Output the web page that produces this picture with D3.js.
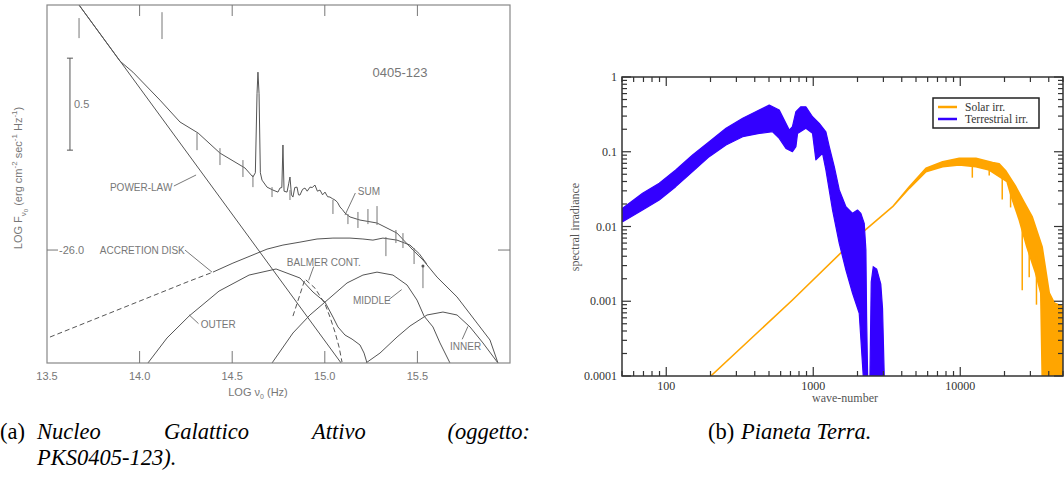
<!DOCTYPE html>
<html>
<head>
<meta charset="utf-8">
<script src="https://cdn.jsdelivr.net/npm/d3@7"></script>
<style>
  body { margin: 0; background: #fff; }
  svg { display: block; }
</style>
</head>
<body>
<div id="chart"></div>
<script>
// ---------- panel (a): PKS 0405-123 ----------
var powerLaw = [[13.673, -24.668], [15.088, -26.614]];
var sumCurve = [[13.673,-24.668],[13.894,-24.973],[13.964,-25.033],[14.110,-25.185],[14.218,-25.304],[14.316,-25.364],
  [14.434,-25.473],[14.569,-25.554],[14.612,-25.603],[14.625,-25.58],[14.634,-25.15],[14.639,-25.033],[14.645,-25.15],
  [14.652,-25.58],[14.661,-25.620],[14.688,-25.658],[14.720,-25.674],[14.747,-25.685],[14.758,-25.663],[14.768,-25.66],
  [14.774,-25.429],[14.780,-25.68],[14.796,-25.685],[14.805,-25.64],[14.812,-25.603],[14.820,-25.70],[14.828,-25.712],
  [14.838,-25.66],[14.850,-25.658],[14.858,-25.70],[14.866,-25.701],[14.880,-25.67],[14.893,-25.663],[14.905,-25.68],
  [14.920,-25.658],[14.932,-25.66],[14.947,-25.647],[14.960,-25.68],[14.974,-25.674],[14.988,-25.70],[15.001,-25.685],
  [15.015,-25.71],[15.028,-25.712],[15.040,-25.72],[15.055,-25.728],[15.068,-25.74],[15.082,-25.766],[15.095,-25.78],
  [15.109,-25.799],[15.136,-25.82],[15.190,-25.837],[15.282,-25.853],[15.390,-25.908],[15.476,-26.0],[15.530,-26.054],
  [15.606,-26.147],[15.714,-26.255],[15.822,-26.397],[15.892,-26.489],[15.935,-26.614]];
var diskDashed = [[13.516,-26.473],[13.786,-26.364],[14.056,-26.255],[14.256,-26.174],[14.396,-26.120]];
var diskSolid = [[14.396,-26.120],[14.504,-26.071],[14.688,-25.995],[14.774,-25.973],[14.866,-25.957],[14.958,-25.940],
  [15.044,-25.935],[15.136,-25.935],[15.206,-25.940],[15.260,-25.946],[15.314,-25.935],[15.390,-25.946],[15.460,-25.973],
  [15.510,-26.02],[15.550,-26.075]];
var outer = [[14.045,-26.614],[14.148,-26.478],[14.267,-26.359],[14.429,-26.223],[14.591,-26.136],[14.737,-26.103],
  [14.866,-26.152],[14.936,-26.228],[15.001,-26.283],[15.044,-26.364],[15.071,-26.418],[15.109,-26.462],[15.147,-26.484],
  [15.190,-26.516],[15.212,-26.560],[15.228,-26.614]];
var middle = [[14.715,-26.614],[14.828,-26.451],[14.920,-26.353],[15.001,-26.283],[15.120,-26.179],[15.206,-26.136],
  [15.282,-26.120],[15.368,-26.136],[15.444,-26.190],[15.498,-26.272],[15.536,-26.359],[15.584,-26.418],[15.622,-26.505],
  [15.676,-26.614]];
var inner = [[15.222,-26.614],[15.298,-26.560],[15.390,-26.473],[15.460,-26.413],[15.552,-26.353],[15.638,-26.337],
  [15.714,-26.353],[15.784,-26.418],[15.854,-26.505],[15.935,-26.614]];
var balmer = [[14.828,-26.359],[14.893,-26.158],[14.947,-26.207],[15.001,-26.293],[15.028,-26.364],[15.055,-26.446],
  [15.077,-26.527],[15.093,-26.609]];
// error bars: [logNu, top, bottom]
var errorBars = [[13.673,-24.739,-24.848],[14.121,-24.707,-24.853],[14.310,-25.364,-25.457],[14.434,-25.446,-25.538],
  [14.558,-25.511,-25.603],[14.612,-25.592,-25.658],[14.715,-25.658,-25.712],[14.812,-25.674,-25.728],
  [15.044,-25.728,-25.804],[15.125,-25.804,-25.859],[15.179,-25.793,-25.880],[15.233,-25.777,-25.859],
  [15.282,-25.761,-25.864],[15.330,-25.929,-26.033],[15.384,-25.891,-25.962],[15.422,-25.908,-25.989],
  [15.482,-25.989,-26.076],[15.530,-26.087,-26.207]];
var xTicksA = [13.5, 14.0, 14.5, 15.0, 15.5];
var scaleBar = [13.624, -24.957, -25.457];
// labels: [text, logNu, logF, pointer from, pointer to]
var labelsA = [
  ["POWER-LAW", 13.84, -25.660, [14.185, -25.652], [14.305, -25.592]],
  ["SUM", 15.178, -25.677, [15.165, -25.690], [15.109, -25.810]],
  ["ACCRETION DISK", 13.785, -26.0, [14.245, -26.0], [14.391, -26.12]],
  ["OUTER", 14.33, -26.40, [14.318, -26.40], [14.267, -26.352]],
  ["BALMER CONT.", 14.795, -26.063, [14.94, -26.09], [14.913, -26.165]],
  ["MIDDLE", 15.152, -26.27, [15.345, -26.27], [15.415, -26.215]],
  ["INNER", 15.676, -26.52, [15.742, -26.485], [15.773, -26.415]]
];

// ---------- panel (b): Pianeta Terra ----------
var terrUpper = [[50.5,0.0175],[69,0.0278],[89.6,0.0378],[116,0.057],[151,0.0905],[196,0.136],[255,0.206],[331,0.28],
  [429,0.362],[502,0.42],[587,0.362],[635,0.266],[687,0.195],[722,0.217],[762,0.343],[824,0.40],[891,0.40],[989,0.294],
  [1099,0.24],[1219,0.185],[1285,0.117],[1390,0.063],[1503,0.0308],[1668,0.0184],[1851,0.015],[2000,0.0166],
  [2108,0.015],[2222,0.011],[2281,0.00485],[2306,0.00062],[2344,0.0001]];
var terrLower = [[50.5,0.0116],[69,0.0166],[89.6,0.0226],[116,0.0341],[151,0.0542],[196,0.086],[255,0.123],[331,0.159],
  [429,0.176],[529,0.185],[587,0.151],[652,0.111],[722,0.100],[762,0.117],[782,0.176],[891,0.206],[989,0.176],
  [1042,0.078],[1157,0.0953],[1219,0.057],[1353,0.0166],[1503,0.00596],[1668,0.00262],[1851,0.00128],[2055,0.00069],
  [2188,0.0001]];
var terrBand2 = [[2431,0.0001],[2480,0.0018],[2560,0.0029],[2700,0.0027],[2880,0.0017],[2960,0.0008],[3040,0.0001]];
var solarUpper = [[201,0.0001],[722,0.00104],[2055,0.00769],[3467,0.0184],[4500,0.0341],[5843,0.0601],[7586,0.0736],
  [9845,0.0817],[12790,0.0817],[16600,0.072],[18400,0.069],[20460,0.055],[23900,0.034],[27240,0.021],[30900,0.0134],
  [36100,0.0053],[40300,0.00129],[43600,0.00095],[50000,0.00085]];
var solarLower = [[201,0.0001],[722,0.00104],[2055,0.00769],[3467,0.0184],[4500,0.0324],[5843,0.0542],[7586,0.0631],
  [9845,0.0665],[12790,0.0631],[15740,0.057],[18420,0.0464],[20800,0.040],[22300,0.0248],[25200,0.0122],[28400,0.0053],
  [32500,0.0024],[35300,0.00129],[36100,0.0001],[50000,0.0001]];
// absorption spikes: [wave-number, top, bottom]
var solarSpikes = [[12080,0.077,0.045],[15740,0.072,0.048],[19300,0.057,0.023],[22000,0.04,0.018],[26400,0.0152,0.0014],
  [29450,0.006,0.0021],[33000,0.004,0.0009]];
var xMajorB = [100, 1000, 10000];
var yMajorB = [0.0001, 0.001, 0.01, 0.1, 1];
var yLabelsB = ["0.0001", "0.001", "0.01", "0.1", "1"];
var legendB = [["Solar irr.", "#ffa500"], ["Terrestrial irr.", "#3300ff"]];

var W = 1064, H = 477;
var svg = d3.select("#chart").append("svg").attr("width", W).attr("height", H);
svg.append("rect").attr("width", W).attr("height", H).attr("fill", "#fff");

// ======== panel (a) ========
var xA = d3.scaleLinear().domain([13.5, 16.0]).range([47, 510]);
var yA = d3.scaleLinear().domain([-26.614, -24.668]).range([363, 5]);
var lineA = d3.line().x(function(d){ return xA(d[0]); }).y(function(d){ return yA(d[1]); });
var gray = "#555";

svg.append("clipPath").attr("id", "clipA").append("rect")
  .attr("x", 47).attr("y", 5).attr("width", 463).attr("height", 358);
var ga = svg.append("g");
var gc = ga.append("g").attr("clip-path", "url(#clipA)");

gc.selectAll("path.curve")
  .data([powerLaw, sumCurve, diskSolid, outer, middle, inner])
  .enter().append("path").attr("class", "curve")
  .attr("d", lineA).attr("fill", "none").attr("stroke", gray).attr("stroke-width", 1);
gc.selectAll("path.dash")
  .data([diskDashed, balmer])
  .enter().append("path").attr("class", "dash")
  .attr("d", lineA).attr("fill", "none").attr("stroke", gray).attr("stroke-width", 1)
  .attr("stroke-dasharray", "5,3");

gc.selectAll("line.err").data(errorBars).enter().append("line").attr("class", "err")
  .attr("x1", function(d){ return xA(d[0]); }).attr("x2", function(d){ return xA(d[0]); })
  .attr("y1", function(d){ return yA(d[1]); }).attr("y2", function(d){ return yA(d[2]); })
  .attr("stroke", "#777").attr("stroke-width", 1);
var lastBar = errorBars[errorBars.length - 1];
gc.append("circle").attr("cx", xA(lastBar[0])).attr("cy", yA(lastBar[1])).attr("r", 1.5).attr("fill", gray);

// frame
ga.append("rect").attr("x", 47).attr("y", 5).attr("width", 463).attr("height", 358)
  .attr("fill", "none").attr("stroke", "#888").attr("stroke-width", 1.2);

// inner ticks top / bottom
xTicksA.slice(1).forEach(function(t){
  ga.append("line").attr("x1", xA(t)).attr("x2", xA(t)).attr("y1", 5).attr("y2", 16).attr("stroke", "#777");
  ga.append("line").attr("x1", xA(t)).attr("x2", xA(t)).attr("y1", 363).attr("y2", 351).attr("stroke", "#777");
});
ga.selectAll("text.xt").data(xTicksA).enter().append("text").attr("class", "xt")
  .attr("x", function(d){ return xA(d); }).attr("y", 380)
  .attr("text-anchor", "middle").attr("font-family", "Liberation Sans, Arial, sans-serif")
  .attr("font-size", 11).attr("fill", "#777").text(function(d){ return d.toFixed(1); });
// -26.0 tick
ga.append("line").attr("x1", 47).attr("x2", 58).attr("y1", yA(-26)).attr("y2", yA(-26)).attr("stroke", "#777");
ga.append("line").attr("x1", 498).attr("x2", 510).attr("y1", yA(-26)).attr("y2", yA(-26)).attr("stroke", "#777");
ga.append("text").attr("x", 59).attr("y", yA(-26) + 4).attr("font-family", "Liberation Sans, Arial, sans-serif")
  .attr("font-size", 11).attr("fill", "#777").text("-26.0");

// scale bar 0.5 dex
ga.append("line").attr("x1", xA(scaleBar[0])).attr("x2", xA(scaleBar[0]))
  .attr("y1", yA(scaleBar[1])).attr("y2", yA(scaleBar[2])).attr("stroke", gray);
[scaleBar[1], scaleBar[2]].forEach(function(v){
  ga.append("line").attr("x1", xA(scaleBar[0]) - 3).attr("x2", xA(scaleBar[0]) + 3)
    .attr("y1", yA(v)).attr("y2", yA(v)).attr("stroke", gray);
});
ga.append("text").attr("x", xA(scaleBar[0]) + 4).attr("y", yA((scaleBar[1] + scaleBar[2]) / 2) + 4)
  .attr("font-family", "Liberation Sans, Arial, sans-serif").attr("font-size", 11).attr("fill", "#777").text("0.5");
ga.append("text").attr("x", 400).attr("y", 77).attr("text-anchor", "middle")
  .attr("font-family", "Liberation Sans, Arial, sans-serif").attr("font-size", 13).attr("fill", "#777").text("0405-123");

// curve labels
labelsA.forEach(function(l){
  ga.append("text").attr("x", xA(l[1])).attr("y", yA(l[2]) + 4)
    .attr("font-family", "Liberation Sans, Arial, sans-serif").attr("font-size", 10)
    .attr("fill", "#777").text(l[0]);
  ga.append("line").attr("x1", xA(l[3][0])).attr("y1", yA(l[3][1]))
    .attr("x2", xA(l[4][0])).attr("y2", yA(l[4][1])).attr("stroke", gray).attr("stroke-width", 0.8);
});

// axis titles
var yt = ga.append("text").attr("transform", "translate(22,178) rotate(-90)").attr("text-anchor", "middle")
  .attr("font-family", "Liberation Sans, Arial, sans-serif").attr("font-size", 11).attr("fill", "#777");
yt.append("tspan").text("LOG  F");
yt.append("tspan").attr("font-size", 8).attr("dy", 4).text("ν");
yt.append("tspan").attr("font-size", 6).attr("dy", 2).text("0");
yt.append("tspan").attr("dy", -6).text(" (erg cm");
yt.append("tspan").attr("font-size", 8).attr("dy", -5).text("-2");
yt.append("tspan").attr("dy", 5).text(" sec");
yt.append("tspan").attr("font-size", 8).attr("dy", -5).text("-1");
yt.append("tspan").attr("dy", 5).text(" Hz");
yt.append("tspan").attr("font-size", 8).attr("dy", -5).text("-1");
yt.append("tspan").attr("dy", 5).text(")");
var xt = ga.append("text").attr("x", 258).attr("y", 396).attr("text-anchor", "middle")
  .attr("font-family", "Liberation Sans, Arial, sans-serif").attr("font-size", 11).attr("fill", "#777");
xt.append("tspan").text("LOG ν");
xt.append("tspan").attr("font-size", 7).attr("dy", 3).text("0");
xt.append("tspan").attr("dy", -3).text(" (Hz)");

// ======== panel (b) ========
var xB = d3.scaleLog().domain([50, 50000]).range([622, 1063]);
var yB = d3.scaleLog().domain([0.0001, 1]).range([376, 77]);
var lineB = d3.line().x(function(d){ return xB(d[0]); }).y(function(d){ return yB(d[1]); });
svg.append("clipPath").attr("id", "clipB").append("rect")
  .attr("x", 622).attr("y", 77).attr("width", 441).attr("height", 299);
var gb = svg.append("g");
var gbc = gb.append("g").attr("clip-path", "url(#clipB)");

function band(up, low) { return lineB(up.concat(low.slice().reverse())) + "Z"; }
gbc.append("path").attr("d", band(solarUpper, solarLower))
  .attr("fill", "#ffa500").attr("stroke", "#ffa500").attr("stroke-width", 1.6).attr("stroke-linejoin", "round");
gbc.selectAll("line.spk").data(solarSpikes).enter().append("line").attr("class", "spk")
  .attr("x1", function(d){ return xB(d[0]); }).attr("x2", function(d){ return xB(d[0]); })
  .attr("y1", function(d){ return yB(d[1]); }).attr("y2", function(d){ return yB(d[2]); })
  .attr("stroke", "#ffa500").attr("stroke-width", 1.5);
gbc.append("path").attr("d", band(terrUpper, terrLower))
  .attr("fill", "#3300ff").attr("stroke", "#3300ff").attr("stroke-width", 1.2).attr("stroke-linejoin", "round");
gbc.append("path").attr("d", lineB(terrBand2) + "Z")
  .attr("fill", "#3300ff").attr("stroke", "#3300ff").attr("stroke-width", 1.2);

var allX = xB.ticks(), allY = yB.ticks();
function isMajor(v, arr){ return arr.some(function(m){ return Math.abs(v / m - 1) < 1e-6; }); }
allX.forEach(function(v){
  var len = isMajor(v, xMajorB) ? 9 : 5;
  gb.append("line").attr("x1", xB(v)).attr("x2", xB(v)).attr("y1", 376).attr("y2", 376 - len).attr("stroke", "#333").attr("stroke-width", 1.2);
  gb.append("line").attr("x1", xB(v)).attr("x2", xB(v)).attr("y1", 77).attr("y2", 77 + len).attr("stroke", "#333").attr("stroke-width", 1.2);
});
allY.forEach(function(v){
  var len = isMajor(v, yMajorB) ? 9 : 5;
  gb.append("line").attr("x1", 622).attr("x2", 622 + len).attr("y1", yB(v)).attr("y2", yB(v)).attr("stroke", "#333").attr("stroke-width", 1.2);
  gb.append("line").attr("x1", 1063).attr("x2", 1063 - len).attr("y1", yB(v)).attr("y2", yB(v)).attr("stroke", "#333").attr("stroke-width", 1.2);
});
gb.append("rect").attr("x", 622).attr("y", 77).attr("width", 441).attr("height", 299)
  .attr("fill", "none").attr("stroke", "#333").attr("stroke-width", 1.5);

gb.selectAll("text.xb").data(xMajorB).enter().append("text").attr("class", "xb")
  .attr("x", function(d){ return xB(d); }).attr("y", 390).attr("text-anchor", "middle")
  .attr("font-family", "Liberation Serif, serif").attr("font-size", 12).attr("fill", "#333")
  .text(function(d){ return d; });
gb.selectAll("text.yb").data(yMajorB).enter().append("text").attr("class", "yb")
  .attr("x", 617).attr("y", function(d){ return yB(d) + 4; }).attr("text-anchor", "end")
  .attr("font-family", "Liberation Serif, serif").attr("font-size", 12).attr("fill", "#333")
  .text(function(d, i){ return yLabelsB[i]; });
gb.append("text").attr("x", 845).attr("y", 402).attr("text-anchor", "middle")
  .attr("font-family", "Liberation Serif, serif").attr("font-size", 12).attr("fill", "#555").text("wave-number");
gb.append("text").attr("transform", "translate(579,227) rotate(-90)").attr("text-anchor", "middle")
  .attr("font-family", "Liberation Serif, serif").attr("font-size", 12).attr("fill", "#555").text("spectral irradiance");

var lg = gb.append("g");
lg.append("rect").attr("x", 933).attr("y", 98).attr("width", 106).attr("height", 30)
  .attr("fill", "#fff").attr("stroke", "#222").attr("stroke-width", 1.5);
legendB.forEach(function(e, i){
  lg.append("line").attr("x1", 938).attr("x2", 957).attr("y1", 107 + i * 12).attr("y2", 107 + i * 12)
    .attr("stroke", e[1]).attr("stroke-width", 2.5);
  lg.append("text").attr("x", 965).attr("y", 111 + i * 12).attr("font-family", "Liberation Serif, serif")
    .attr("font-size", 11.5).attr("fill", "#333").text(e[0]);
});

// ======== captions ========
var capFont = "Liberation Serif, 'DejaVu Serif', serif";
function cap(x, y, t, italic, anchor) {
  svg.append("text").attr("x", x).attr("y", y).attr("font-family", capFont).attr("font-size", 22.5)
    .attr("font-style", italic ? "italic" : "normal").attr("text-anchor", anchor || "start")
    .attr("fill", "#000").text(t);
}
cap(0, 439, "(a)", false);
cap(37, 439, "Nucleo", true);
cap(164, 439, "Galattico", true);
cap(312, 439, "Attivo", true);
cap(530, 439, "(oggetto:", true, "end");
cap(37, 465, "PKS0405-123).", true);
cap(708, 439, "(b)", false);
cap(741, 439, "Pianeta Terra.", true);
</script>
</body>
</html>
